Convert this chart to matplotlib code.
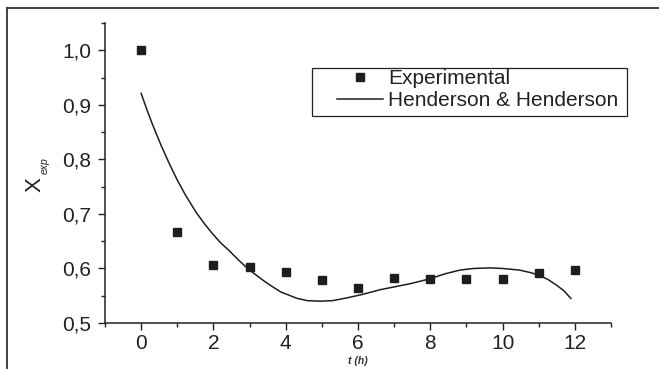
import matplotlib
matplotlib.use("Agg")
import matplotlib.pyplot as plt
from matplotlib.lines import Line2D
from matplotlib.patches import Rectangle
from matplotlib.ticker import MultipleLocator

plt.rcParams['font.family'] = ['Liberation Sans', 'DejaVu Sans']

# Data
t_exp = [0, 1, 2, 3, 4, 5, 6, 7, 8, 9, 10, 11, 12]
x_exp = [1.000, 0.667, 0.606, 0.603, 0.593, 0.579, 0.564, 0.582, 0.580, 0.580, 0.580, 0.592, 0.597]

t_model = [0.0, 0.16, 0.32, 0.55, 0.78, 1.0, 1.24, 1.52, 1.74, 1.97, 2.2, 2.43, 2.7, 2.98,
           3.40, 3.60, 3.86, 4.32, 4.60, 4.96, 5.30, 5.69, 6.10, 6.61, 7.44, 7.99, 8.40,
           8.82, 9.20, 9.64, 10.0, 10.47, 10.80, 11.02, 11.25, 11.48, 11.70, 11.89]
x_model = [0.921, 0.891, 0.863, 0.826, 0.792, 0.762, 0.733, 0.703, 0.683, 0.664, 0.647,
           0.633, 0.615, 0.598, 0.577, 0.568, 0.557, 0.545, 0.541, 0.540, 0.541, 0.546,
           0.552, 0.561, 0.572, 0.581, 0.590, 0.597, 0.600, 0.601, 0.600, 0.597, 0.592,
           0.587, 0.580, 0.570, 0.559, 0.545]

xticks = [0, 2, 4, 6, 8, 10, 12]
xtick_labels = ['0', '2', '4', '6', '8', '10', '12']
yticks = [0.5, 0.6, 0.7, 0.8, 0.9, 1.0]
ytick_labels = ['0,5', '0,6', '0,7', '0,8', '0,9', '1,0']

W, H = 659, 369
fig = plt.figure(figsize=(W / 100, H / 100), dpi=100)
ax = fig.add_axes([105 / W, (H - 323) / H, 506 / W, 300 / H])

dark = '#1e1e1e'
ax.plot(t_exp, x_exp, linestyle='none', marker='s', markersize=6.2,
        color=dark, label='Experimental')
ax.plot(t_model, x_model, color=dark, linewidth=1.1, label='Henderson & Henderson')

ax.set_xlim(-1, 13)
ax.set_ylim(0.5, 1.05)
ax.set_xticks(xticks)
ax.set_xticklabels(xtick_labels)
ax.set_yticks(yticks)
ax.set_yticklabels(ytick_labels)
ax.xaxis.set_minor_locator(MultipleLocator(1))
ax.yaxis.set_minor_locator(MultipleLocator(0.05))

for s in ['top', 'right']:
    ax.spines[s].set_visible(False)
for s in ['left', 'bottom']:
    ax.spines[s].set_linewidth(1.1)
    ax.spines[s].set_color('#222222')

ax.tick_params(axis='both', which='major', direction='out', length=5, width=1.0,
               labelsize=15, colors='#222222')
ax.tick_params(axis='both', which='minor', direction='out', length=3, width=1.0,
               colors='#222222')
ax.tick_params(axis='x', which='major', pad=3)
ax.tick_params(axis='y', which='major', pad=5)

# y label: "X" with small italic subscript "exp"
fig.text(35 / W, 1 - 185 / H, 'X', rotation=90, fontsize=16, color='#222222',
         ha='center', va='center')
fig.text(45 / W, 1 - 166 / H, 'exp', rotation=90, fontsize=7.5, style='italic',
         color='#222222', ha='center', va='center')

ax.set_xlabel('t (h)', fontsize=7.5, style='italic', fontweight='bold',
              labelpad=2, color='#333333')

leg = ax.legend(loc='upper left', bbox_to_anchor=((337 - 105) / 506, (323 - 69) / 300),
                frameon=False, fontsize=15, handlelength=2.2, handletextpad=0.25,
                labelspacing=0.15, borderpad=0, borderaxespad=0, numpoints=1)
for txt in leg.get_texts():
    txt.set_color('#222222')

# legend box
ax.add_patch(Rectangle(((312 - 105) / 506, (323 - 116) / 300), (627 - 312) / 506, 48 / 300,
                       transform=ax.transAxes, fill=False, edgecolor='#222222',
                       linewidth=0.9, clip_on=False))

# figure frame (top and left)
fig.add_artist(Line2D([7 / W, 7 / W], [0, 1 - 8 / H], transform=fig.transFigure,
                      color='#333333', linewidth=1.3))
fig.add_artist(Line2D([7 / W, 1], [1 - 8 / H, 1 - 8 / H], transform=fig.transFigure,
                      color='#333333', linewidth=1.3))

fig.savefig('out.png', dpi=100)
